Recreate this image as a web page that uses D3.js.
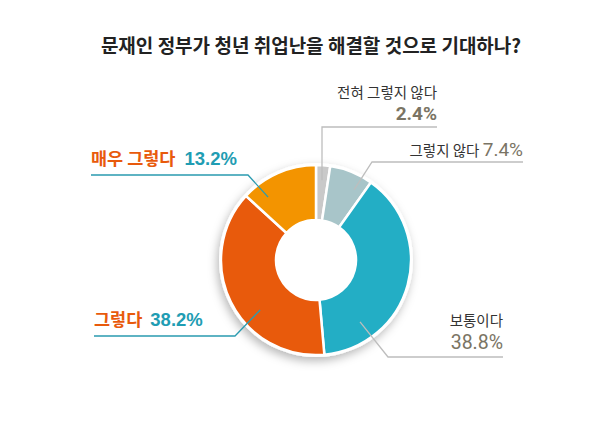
<!DOCTYPE html>
<html><head><meta charset="utf-8">
<script src="https://cdn.jsdelivr.net/npm/d3@7"></script>
<style>
html,body{margin:0;padding:0;background:#fff;}
svg{display:block;}
</style></head>
<body>
<script>
// ---- data ----
const title = "문재인 정부가 청년 취업난을 해결할 것으로 기대하나?";
const categories = ["전혀 그렇지 않다", "그렇지 않다", "보통이다", "그렇다", "매우 그렇다"];
const values = [2.4, 7.4, 38.8, 38.2, 13.2];
const colors = ["#c9c9c9", "#a8c5c9", "#23aec5", "#e85a0c", "#f39400"];

// ---- layout ----
const W = 600, H = 425;
const cx = 316, cy = 260, rOuter = 95, rInner = 40;

const svg = d3.select("body").append("svg").attr("width", W).attr("height", H);
svg.append("rect").attr("width", W).attr("height", H).attr("fill", "#fff");

const defs = svg.append("defs");
const f = defs.append("filter").attr("id", "sh").attr("x", "-30%").attr("y", "-30%").attr("width", "160%").attr("height", "160%");
f.append("feDropShadow").attr("dx", -2).attr("dy", 4).attr("stdDeviation", 5).attr("flood-color", "#000").attr("flood-opacity", 0.28);

svg.append("text").attr("x", 311).attr("y", 53).attr("text-anchor", "middle")
  .attr("font-family", "'Noto Sans CJK KR', sans-serif").attr("font-weight", "bold")
  .attr("font-size", 19).attr("fill", "#222").text(title);

const pie = d3.pie().sort(null).value(d => d)(values);
const arc = d3.arc().innerRadius(rInner).outerRadius(rOuter);

const g = svg.append("g").attr("transform", `translate(${cx},${cy})`);
g.append("circle").attr("r", rOuter + 2).attr("fill", "#fff").attr("filter", "url(#sh)");
g.selectAll("path.slice").data(pie).join("path").attr("class", "slice")
  .attr("d", arc).attr("fill", (d, i) => colors[i])
  .attr("stroke", "#fff").attr("stroke-width", 2.5).attr("stroke-linejoin", "round");

// label layout: pointer angle/radius, elbow point, line end
const labelLayout = [
  {ang: 4.3, r: 80, elbow: [322, 127], end: [437, 127], lineColor: "#bdbdbd"},
  {ang: 28.5, r: 80, elbow: [372, 162], end: [523, 162], lineColor: "#bdbdbd"},
  {ang: 144.6, r: 76, elbow: [388, 357], end: [503, 357], lineColor: "#bdbdbd"},
  {ang: 228.2, r: 75, elbow: [235, 336], end: [94, 336], lineColor: "#2a9bb0"},
  {ang: 322.7, r: 79, elbow: [248, 175], end: [91, 175], lineColor: "#2a9bb0"}
];

labelLayout.forEach((L, i) => {
  const a = L.ang * Math.PI / 180;
  const p = [cx + L.r * Math.sin(a), cy - L.r * Math.cos(a)];
  svg.append("polyline")
    .attr("points", [p, L.elbow, L.end].map(q => q.join(",")).join(" "))
    .attr("fill", "none").attr("stroke", L.lineColor).attr("stroke-width", 1.3);
});

const kr = "'Noto Sans CJK KR', sans-serif";
const num = "'Liberation Sans Narrow', 'Roboto', 'Liberation Sans', sans-serif";
const pct = v => v.toFixed(1) + "%";

// 전혀 그렇지 않다
svg.append("text").attr("x", 437).attr("y", 98).attr("text-anchor", "end")
  .attr("font-family", kr).attr("font-size", 14.5).attr("fill", "#333").text(categories[0]);
svg.append("text").attr("x", 437).attr("y", 120).attr("text-anchor", "end")
  .attr("font-family", num).attr("font-weight", "bold").attr("font-size", 19).attr("fill", "#7a7464").text(pct(values[0]));

// 그렇지 않다
const t1 = svg.append("text").attr("x", 523).attr("y", 156).attr("text-anchor", "end");
t1.append("tspan").attr("font-family", kr).attr("font-size", 14.5).attr("fill", "#333").text(categories[1] + " ");
t1.append("tspan").attr("font-family", num).attr("font-size", 19).attr("fill", "#7a7464").text(pct(values[1]));

// 보통이다
svg.append("text").attr("x", 503).attr("y", 326).attr("text-anchor", "end")
  .attr("font-family", kr).attr("font-size", 14.5).attr("fill", "#333").text(categories[2]);
svg.append("text").attr("x", 503).attr("y", 349).attr("text-anchor", "end")
  .attr("font-family", num).attr("font-size", 19.5).attr("fill", "#7a7464").text(pct(values[2]));

// 그렇다
const t3 = svg.append("text").attr("x", 94).attr("y", 326);
t3.append("tspan").attr("font-family", kr).attr("font-weight", "bold").attr("font-size", 17.5).attr("fill", "#e85a0c").text(categories[3]);
t3.append("tspan").attr("dx", 8).attr("font-family", "'Liberation Sans', Arial, sans-serif").attr("font-weight", "bold").attr("font-size", 18.5).attr("fill", "#1f9db3").text(pct(values[3]));

// 매우 그렇다
const t4 = svg.append("text").attr("x", 91).attr("y", 165);
t4.append("tspan").attr("font-family", kr).attr("font-weight", "bold").attr("font-size", 17.5).attr("fill", "#e85a0c").text(categories[4]);
t4.append("tspan").attr("dx", 9).attr("font-family", "'Liberation Sans', Arial, sans-serif").attr("font-weight", "bold").attr("font-size", 18.5).attr("fill", "#1f9db3").text(pct(values[4]));
</script>
</body></html>
